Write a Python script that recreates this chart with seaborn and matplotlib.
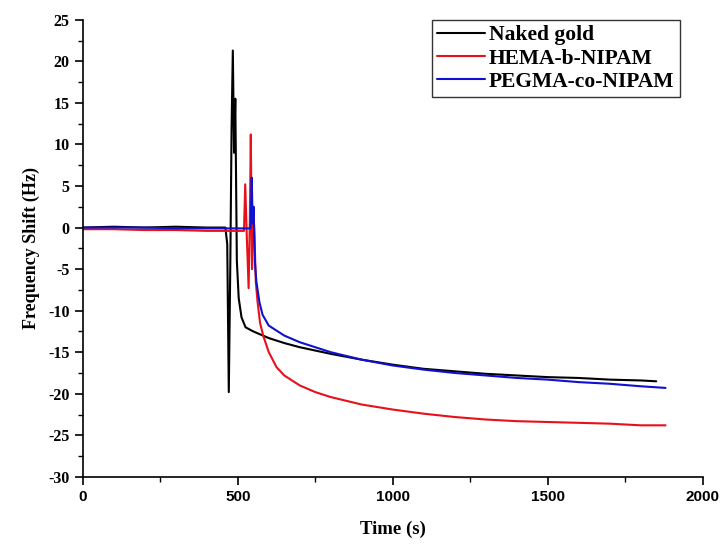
"""
QCM frequency shift vs time for the three surfaces.
"""

import matplotlib

matplotlib.use("Agg")
import matplotlib.pyplot as plt
import pandas as pd
import seaborn as sns
from matplotlib.ticker import MultipleLocator

# Naked gold
gold_t = [0, 100, 200, 300, 400, 460, 466, 471, 476, 480, 484, 488, 492, 497, 503, 512, 525,
          550, 600, 650, 700, 800, 900, 1000, 1100, 1200, 1300, 1400, 1500, 1600, 1700, 1800, 1850]
gold_f = [0.0, 0.1, 0.0, 0.1, 0.0, 0.0, -2.0, -19.8, -4.0, 12.0, 21.3, 9.0, 15.5, -4.0, -8.5, -10.8, -12.0,
          -12.5, -13.3, -13.9, -14.4, -15.2, -15.9, -16.5, -17.0, -17.3, -17.6, -17.8, -18.0, -18.1, -18.3, -18.4, -18.5]

# HEMA-b-NIPAM
hema_t = [0, 100, 200, 300, 400, 500, 520, 524, 529, 535, 539, 542, 546, 550, 554, 558, 564, 572,
          582, 600, 625, 650, 700, 750, 800, 900, 1000, 1100, 1200, 1300, 1400, 1500, 1600, 1700, 1800, 1880]
hema_f = [-0.2, -0.2, -0.3, -0.3, -0.4, -0.4, -0.4, 5.2, -1.0, -7.3, 1.0, 11.2, -5.0, 2.5, -1.0, -6.5, -9.0, -11.5,
          -13.0, -15.0, -16.8, -17.8, -19.0, -19.8, -20.4, -21.3, -21.9, -22.4, -22.8, -23.1, -23.3, -23.4, -23.5, -23.6, -23.8, -23.8]

# PEGMA-co-NIPAM
pegma_t = [0, 100, 200, 300, 400, 500, 541, 545, 548, 551, 555, 560, 570, 580, 600, 650, 700, 800,
           900, 1000, 1100, 1200, 1300, 1400, 1500, 1600, 1700, 1800, 1880]
pegma_f = [0.0, 0.0, 0.0, -0.1, -0.1, -0.1, -0.1, 6.0, 0.5, 2.5, -4.0, -6.5, -9.0, -10.5, -11.8, -13.0, -13.8, -15.0,
           -15.9, -16.6, -17.1, -17.5, -17.8, -18.1, -18.3, -18.6, -18.8, -19.1, -19.3]

labels = ["Naked gold", "HEMA-b-NIPAM", "PEGMA-co-NIPAM"]
colors = ["#000000", "#e8101a", "#1010d0"]

df = pd.concat([
    pd.DataFrame({"time": gold_t, "shift": gold_f, "sample": labels[0]}),
    pd.DataFrame({"time": hema_t, "shift": hema_f, "sample": labels[1]}),
    pd.DataFrame({"time": pegma_t, "shift": pegma_f, "sample": labels[2]}),
])

sns.set_theme(style="ticks")
plt.rcParams["font.family"] = ["Liberation Serif", "DejaVu Serif"]
plt.rcParams["axes.unicode_minus"] = False
plt.rcParams["text.color"] = "black"
plt.rcParams["axes.labelcolor"] = "black"
plt.rcParams["xtick.color"] = "black"
plt.rcParams["ytick.color"] = "black"

fig = plt.figure(figsize=(7.2, 5.5), dpi=100)
ax = fig.add_axes([0.115, 0.133, 0.861, 0.831])

sns.lineplot(data=df, x="time", y="shift", hue="sample", palette=dict(zip(labels, colors)),
             sort=False, estimator=None, linewidth=1.5, ax=ax)

ax.set_xlim(0, 2000)
ax.set_ylim(-30, 25)
ax.xaxis.set_major_locator(MultipleLocator(500))
ax.xaxis.set_minor_locator(MultipleLocator(250))
ax.yaxis.set_major_locator(MultipleLocator(5))
ax.yaxis.set_minor_locator(MultipleLocator(2.5))
ax.tick_params(which="major", direction="out", length=6, width=1.2, color="black", labelcolor="black")
ax.tick_params(which="minor", direction="out", length=3.5, width=1.0, color="black")
for lab in ax.get_xticklabels():
    lab.set_fontfamily("Liberation Sans")
    lab.set_fontweight("bold")
    lab.set_fontsize(11)
for lab in ax.get_yticklabels():
    lab.set_fontweight("bold")
    lab.set_fontsize(11.5)

sns.despine(ax=ax)
for side in ["left", "bottom"]:
    ax.spines[side].set_color("black")
    ax.spines[side].set_linewidth(1.2)

ax.set_xlabel("Time (s)", fontsize=13.5, fontweight="bold", labelpad=12)
ax.set_ylabel("Frequency Shift (Hz)", fontsize=13, fontweight="bold", labelpad=6)

leg = ax.legend(loc="upper right", bbox_to_anchor=(0.963, 1.0), frameon=True, fancybox=False,
                edgecolor="#333333", handlelength=2.2, handletextpad=0.2, borderaxespad=0.0,
                labelspacing=0.15, borderpad=0.25,
                prop={"family": "Liberation Serif", "weight": "bold", "size": 15.5})
leg.get_frame().set_linewidth(1.0)
leg.get_frame().set_alpha(1)

fig.savefig("out.png", dpi=100)
